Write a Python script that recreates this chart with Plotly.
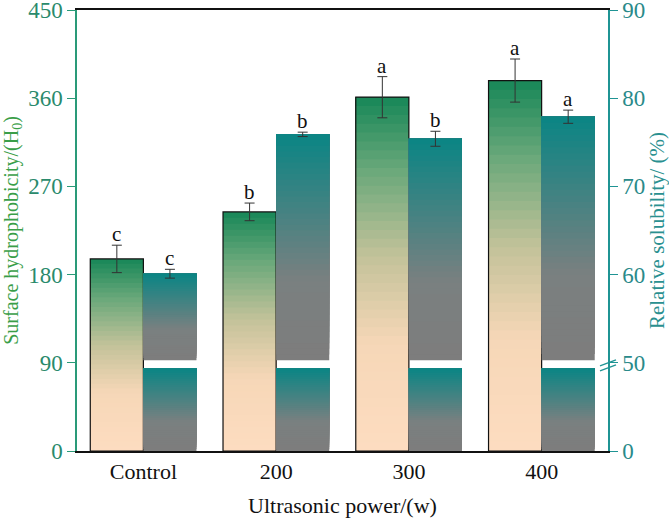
import plotly.graph_objects as go

# data
categories = ["Control", "200", "300", "400"]
hydrophobicity = [196, 244, 361, 378]
hydro_err = [14, 9, 21, 22]
hydro_letters = ["c", "b", "a", "a"]
solubility = [60.1, 75.9, 75.4, 77.9]
sol_err = [0.5, 0.25, 0.85, 0.75]
sol_letters = ["c", "b", "b", "a"]

FONT = "Liberation Serif"
N = 40  # gradient steps


def hex2rgb(h):
    h = h.lstrip("#")
    return [int(h[i:i + 2], 16) for i in (0, 2, 4)]


def scale_color(stops, t):
    # stops: list of (pos, hex), t in 0..1 (0 = bottom of bar)
    for (p0, c0), (p1, c1) in zip(stops[:-1], stops[1:]):
        if p0 <= t <= p1:
            f = (t - p0) / (p1 - p0) if p1 > p0 else 0
            a, b = hex2rgb(c0), hex2rgb(c1)
            return "rgb(%d,%d,%d)" % tuple(round(a[i] + (b[i] - a[i]) * f) for i in range(3))
    return stops[-1][1]


green_stops = [(0, "#fddcc0"), (0.3, "#f6d7b7"), (0.55, "#c3c29a"), (0.8, "#6aa87a"), (1, "#1c895a")]
teal_stops = [(0, "#7d7d7d"), (0.35, "#7a8080"), (1, "#0c8584")]


def gradient_bars(fig, lo, hi, stops, offset, yaxis):
    # overlapping stacked segments, each from its own base up to the top
    for k in range(N):
        base = [l + (h - l) * k / N for l, h in zip(lo, hi)]
        fig.add_trace(go.Bar(
            x=categories, y=[h - b for h, b in zip(hi, base)], base=base,
            offset=offset, width=0.4, yaxis=yaxis,
            marker=dict(color=scale_color(stops, k / (N - 1)), line_width=0),
            showlegend=False, hoverinfo="skip",
        ))


fig = go.Figure()

# green bars (left axis)
gradient_bars(fig, [0] * 4, hydrophobicity, green_stops, -0.4, "y")
fig.add_trace(go.Bar(
    x=categories, y=hydrophobicity, offset=-0.4, width=0.4,
    marker=dict(color="rgba(0,0,0,0)", line=dict(color="#111111", width=1.2)),
    error_y=dict(type="data", array=hydro_err, color="#333333", thickness=1, width=5),
    showlegend=False, hoverinfo="skip",
))

# teal bars on broken right axis (0 shown at 40)
gap_lo, gap_hi = 49.35, 50.3
gradient_bars(fig, [40] * 4, [gap_lo] * 4, teal_stops, 0.0, "y2")
gradient_bars(fig, [gap_hi] * 4, solubility, teal_stops, 0.0, "y2")
fig.add_trace(go.Bar(
    x=categories, y=[s - 40 for s in solubility], base=40, offset=0.0, width=0.4, yaxis="y2",
    marker=dict(color="rgba(0,0,0,0)", line_width=0),
    error_y=dict(type="data", array=sol_err, color="#333333", thickness=1, width=5),
    showlegend=False, hoverinfo="skip",
))

# significance letters
for i, (v, e, t) in enumerate(zip(hydrophobicity, hydro_err, hydro_letters)):
    fig.add_annotation(x=i - 0.2, y=v + e, yref="y", text=t, showarrow=False,
                       yanchor="bottom", yshift=-3, font=dict(family=FONT, size=21, color="#111111"))
for i, (v, e, t) in enumerate(zip(solubility, sol_err, sol_letters)):
    fig.add_annotation(x=i + 0.2, y=v + e, yref="y2", text=t, showarrow=False,
                       yanchor="bottom", yshift=-3, font=dict(family=FONT, size=21, color="#111111"))

# axis break marks
for d in (0, -5):
    fig.add_shape(type="line", xref="paper", yref="y2", xsizemode="pixel", ysizemode="pixel",
                  xanchor=1, yanchor=50, x0=-8, x1=8, y0=-3 + d, y1=3 + d,
                  line=dict(color="#1f9494", width=1.3))

fig.update_layout(
    template="none",
    width=669, height=529,
    margin=dict(l=77, r=61, t=10, b=78),
    barmode="overlay",
    plot_bgcolor="white", paper_bgcolor="white",
    font=dict(family=FONT, size=18, color="#111111"),
    xaxis=dict(
        type="category", range=[-0.5, 3.5], automargin=False,
        showline=True, linecolor="#111111", linewidth=1.5, mirror=True,
        ticks="", tickfont=dict(size=22, color="#111111"),
        title=dict(text="Ultrasonic power/(w)", font=dict(size=22, color="#111111"), standoff=14),
        showgrid=False, zeroline=False,
    ),
    yaxis=dict(
        range=[0, 450], tickvals=[0, 90, 180, 270, 360, 450], automargin=False,
        ticklabeloverflow="allow",
        showline=True, linecolor="#2a9a78", linewidth=1.5,
        ticks="outside", ticklen=8, tickcolor="#2a9a78",
        tickfont=dict(size=23, color="#2a8a6c"),
        title=dict(text="Surface hydrophobicity/(H<sub>0</sub>)",
                   font=dict(size=20, color="#3a9e48"), standoff=4),
        showgrid=False, zeroline=False,
    ),
    yaxis2=dict(
        overlaying="y", side="right", range=[40, 90], automargin=False,
        ticklabeloverflow="allow",
        tickvals=[40, 50, 60, 70, 80, 90], ticktext=["0", "50", "60", "70", "80", "90"],
        showline=True, linecolor="#1f9494", linewidth=1.5,
        ticks="outside", ticklen=8, tickcolor="#1f9494",
        tickfont=dict(size=23, color="#2a8a8a"),
        title=dict(text="Relative solubility/ (%)", font=dict(size=21, color="#2a9090"), standoff=4),
        showgrid=False, zeroline=False,
    ),
)

# drop the default page margin so the figure sits at the window corner
fig.write_html("out.html", config={"displayModeBar": False},
               post_script="document.body.style.margin='0';")
